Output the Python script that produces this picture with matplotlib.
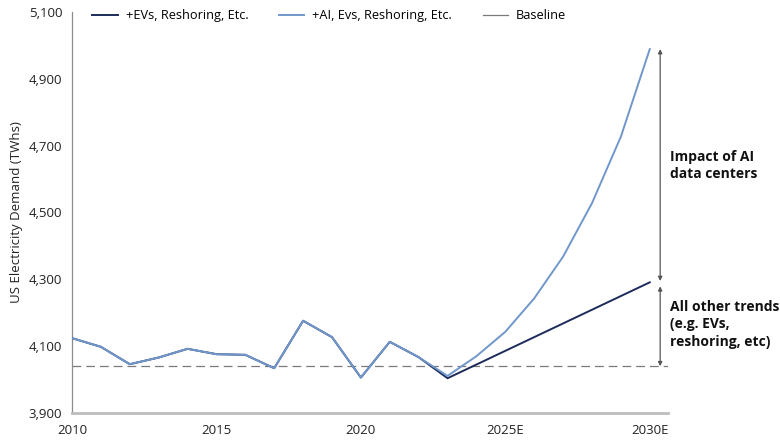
import matplotlib
matplotlib.use("Agg")
import matplotlib.pyplot as plt
from matplotlib.ticker import FuncFormatter

plt.rcParams['font.family'] = ['Open Sans', 'DejaVu Sans']

years = list(range(2010, 2031))
ai_demand = [4124, 4098, 4046, 4066, 4092, 4076, 4074, 4034, 4176, 4127, 4006,
             4113, 4067, 4011, 4070, 4143, 4243, 4368, 4528, 4727, 4989]
ev_demand = [4124, 4098, 4046, 4066, 4092, 4076, 4074, 4034, 4176, 4127, 4006,
             4113, 4067, 4004, 4045, 4086, 4127, 4168, 4209, 4250, 4291]
baseline = 4040

xticks = [2010, 2015, 2020, 2025, 2030]
xtick_labels = ["2010", "2015", "2020", "2025E", "2030E"]
yticks = list(range(3900, 5101, 200))

dark = "#1c2b5a"
light = "#7097cc"
grey = "#7a7a7a"

fig = plt.figure(figsize=(7.8, 4.4), dpi=100)
ax = fig.add_axes([0.0923, 0.0614, 0.7637, 0.9113])

ax.plot(years, ev_demand, color=dark, lw=1.4, label="+EVs, Reshoring, Etc.", zorder=3)
ax.plot(years, ai_demand, color=light, lw=1.4, label="+AI, Evs, Reshoring, Etc.", zorder=4)
ax.axhline(baseline, color=grey, lw=0.9, dashes=(7, 4), zorder=2)
ax.plot([], [], color=grey, lw=0.9, label="Baseline")

ax.set_xlim(2010, 2030.62)
ax.set_ylim(3900, 5100)
ax.set_xticks(xticks)
ax.set_xticklabels(xtick_labels)
ax.set_yticks(yticks)
ax.yaxis.set_major_formatter(FuncFormatter(lambda v, p: "{:,.0f}".format(v)))
ax.tick_params(length=0, labelsize=9.5, colors="#222222", pad=7)
ax.tick_params(axis="x", pad=8)
ax.set_ylabel("US Electricity Demand (TWhs)", fontsize=9.5, color="#222222", labelpad=4)

for s in ["top", "right"]:
    ax.spines[s].set_visible(False)
ax.spines["left"].set_color("#8c8c8c")
ax.spines["left"].set_linewidth(0.9)
ax.spines["bottom"].set_color("#bdbdbd")
ax.spines["bottom"].set_linewidth(2)

arrow_x = 2030.36
arrow_kw = dict(arrowstyle="<|-|>", color="#555555", lw=0.9, mutation_scale=6,
                shrinkA=0, shrinkB=0)
ax.annotate("", xy=(arrow_x, ai_demand[-1]), xytext=(arrow_x, ev_demand[-1] + 4),
            arrowprops=arrow_kw, annotation_clip=False)
ax.annotate("", xy=(arrow_x, ev_demand[-1] - 12), xytext=(arrow_x, baseline),
            arrowprops=arrow_kw, annotation_clip=False)

ax.text(2030.71, 4640, "Impact of AI\ndata centers", fontsize=10, fontweight="bold",
        va="center", ha="left", linespacing=1.3, color="#111111")
ax.text(2030.71, 4165, "All other trends\n(e.g. EVs,\nreshoring, etc)", fontsize=10,
        fontweight="bold", va="center", ha="left", linespacing=1.3, color="#111111")

ax.legend(loc="upper left", bbox_to_anchor=(0.015, 1.035), ncol=3, frameon=False,
          fontsize=9.2, handlelength=2.0, handletextpad=0.6, columnspacing=2.4)

fig.savefig("out.png", dpi=100)
